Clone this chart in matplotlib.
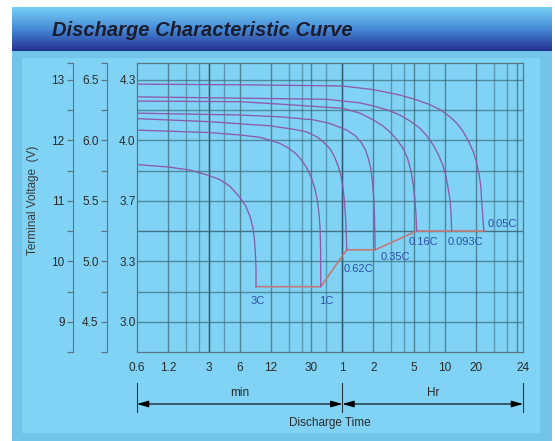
import matplotlib
matplotlib.use("Agg")
import numpy as np
import matplotlib.pyplot as plt
from matplotlib.patches import Rectangle
from matplotlib.transforms import blended_transform_factory

plt.rcParams['font.family'] = ['Liberation Sans', 'DejaVu Sans']

# discharge time in minutes, voltage read on the 12 V scale
t_3c = [0.6, 1.2, 1.97, 3.0, 3.86, 4.83, 6.0, 6.9, 7.6, 8.08, 8.36, 8.55, 8.65, 8.65]
v_3c = [11.60, 11.56, 11.51, 11.42, 11.35, 11.24, 11.06, 10.91, 10.73, 10.55, 10.35, 10.10, 9.85, 9.58]

t_1c = [0.6, 3.0, 6.0, 9.46, 12.0, 14.8, 18.0, 21.2, 24.1, 27.1, 30.1, 32.5, 34.2, 35.5,
        36.3, 36.7, 36.9, 36.9]
v_1c = [12.17, 12.13, 12.09, 12.05, 12.00, 11.95, 11.87, 11.78, 11.67, 11.54, 11.37, 11.19,
        11.01, 10.79, 10.57, 10.30, 10.01, 9.58]

t_062c = [0.6, 3.0, 12.0, 20.7, 26.9, 34.7, 42.2, 46.4, 50.8, 55.0, 58.1, 60.8, 62.9, 64.6,
          65.5, 66.1]
v_062c = [12.36, 12.31, 12.24, 12.18, 12.14, 12.05, 11.92, 11.84, 11.71, 11.56, 11.41, 11.21,
          10.98, 10.68, 10.43, 10.19]

t_035c = [0.6, 6.0, 14.8, 31.3, 45.4, 66.1, 79.6, 91.0, 99.6, 106.5, 112.7, 117.3, 120.8,
          123.0, 124.0, 125]
v_035c = [12.45, 12.42, 12.39, 12.34, 12.28, 12.17, 12.08, 11.97, 11.86, 11.72, 11.56, 11.34,
          11.09, 10.81, 10.51, 10.19]

t_016c = [0.6, 6.0, 14.8, 60.8, 89, 116.5, 145.9, 174, 204, 233.4, 258, 278, 294, 305.6,
          312.6, 317]
v_016c = [12.65, 12.64, 12.60, 12.53, 12.45, 12.35, 12.25, 12.14, 12.01, 11.87, 11.71, 11.51,
          11.26, 11.01, 10.76, 10.50]

t_0093c = [0.6, 42.2, 89, 120, 166.8, 218, 273, 342, 400, 461, 517.6, 569, 612, 644, 670,
           680, 689.6, 695]
v_0093c = [12.72, 12.68, 12.62, 12.57, 12.50, 12.42, 12.32, 12.20, 12.07, 11.92, 11.76, 11.59,
           11.41, 11.20, 11.01, 10.87, 10.68, 10.50]

t_005c = [0.6, 6.0, 60, 119, 218, 317, 428, 535, 670, 784, 902, 1014, 1130, 1214, 1292, 1342,
          1362, 1394, 1430]
v_005c = [12.93, 12.92, 12.90, 12.84, 12.75, 12.67, 12.59, 12.51, 12.39, 12.28, 12.14, 11.99,
          11.81, 11.64, 11.42, 11.21, 10.98, 10.76, 10.50]

rates = ["3C", "1C", "0.62C", "0.35C", "0.16C", "0.093C", "0.05C"]
curves_t = [t_3c, t_1c, t_062c, t_035c, t_016c, t_0093c, t_005c]
curves_v = [v_3c, v_1c, v_062c, v_035c, v_016c, v_0093c, v_005c]

# end-of-discharge line joining the curve ends
t_cutoff = [8.65, 36.9, 66.1, 125, 317, 1430]
v_cutoff = [9.58, 9.58, 10.19, 10.19, 10.50, 10.50]

volt12_ticks = [9, 10, 11, 12, 13]
volt12_labels = ["9", "10", "11", "12", "13"]
volt6_ticks = [4.5, 5.0, 5.5, 6.0, 6.5]
volt6_labels = ["4.5", "5.0", "5.5", "6.0", "6.5"]
cell_labels = ["3.0", "3.3", "3.7", "4.0", "4.3"]

x_tick_min = [0.6, 1.2, 3, 6, 12, 30, 60, 120, 300, 600, 1200]
x_tick_labels = ["0.6", "1.2", "3", "6", "12", "30", "1", "2", "5", "10", "20", "24"]

W, H = 555, 441
fig = plt.figure(figsize=(W / 100, H / 100), dpi=100)
fig.patch.set_facecolor("white")

# panel background drawn in pixel coordinates
bg = fig.add_axes([0, 0, 1, 1], zorder=-10)
bg.axis("off")
bg.add_patch(Rectangle((12, 51), 540, 390, color="#72c4e8", lw=0))
bg.add_patch(Rectangle((22, 58), 518, 375, color="#80d3f5", lw=0))
top = np.array([118, 208, 245]) / 255
mid = np.array([70, 138, 214]) / 255
bot = np.array([36, 48, 145]) / 255
s = np.linspace(0, 1, 60)[:, None]
grad = np.where(s < 0.5, top + (mid - top) * (s / 0.5), mid + (bot - mid) * ((s - 0.5) / 0.5))
bg.imshow(grad[:, None, :], extent=(12, 552, 51, 7), aspect="auto", interpolation="bilinear")
bg.set_xlim(0, W)
bg.set_ylim(H, 0)
bg.text(52, 30, "Discharge Characteristic Curve", fontsize=14.5, fontweight="bold",
        style="italic", va="center", ha="left", color="#1b1d2e")

ax = fig.add_axes([137 / W, 1 - 352 / H, 386 / W, 289 / H])
ax.set_facecolor("none")
ax.set_xscale("log")
ax.set_xlim(0.6, 3441)
ax.set_ylim(8.5, 13.28)

grid_c = "#3d6878"
for k in range(4):
    for m in (1, 2, 3, 4, 5, 7):
        xv = 0.6 * m * 10 ** k
        if 0.6 < xv < 3441:
            strong = m in (1, 2, 5)
            ax.axvline(xv, color=grid_c, lw=1.0, alpha=0.75 if strong else 0.55, zorder=1)
ax.axvline(3, color="#34586a", lw=1.0, alpha=0.9, zorder=1)
ax.axvline(60, color="#34586a", lw=1.0, alpha=0.95, zorder=1)
for yv in np.arange(9, 13.01, 0.5):
    ax.axhline(yv, color=grid_c, lw=1.0, alpha=0.9 if yv == 10.5 else 0.7, zorder=1)

for sp in ax.spines.values():
    sp.set_color("#5a7680")
    sp.set_linewidth(0.9)

for tt, vv in zip(curves_t, curves_v):
    ax.plot(tt, vv, color="#8c5aa8", lw=0.95, zorder=3, solid_joinstyle="round")
ax.plot(t_cutoff, v_cutoff, color="#c47878", lw=1.2, zorder=2)

label_offsets = [(2, -14), (6, -14), (12, -19), (20, -7), (7, -11), (14, -11), (19, 7)]
for name, tt, vv, off in zip(rates, curves_t, curves_v, label_offsets):
    ax.annotate(name, (tt[-1], vv[-1]), xytext=off, textcoords="offset pixels",
                ha="center", va="center", fontsize=8, color="#2d4fa8")

# x ticks: the last label sits at the right end of the axis
xmax = ax.get_xlim()[1]
ax.set_xticks(x_tick_min + [xmax], x_tick_labels)
ax.xaxis.set_minor_locator(matplotlib.ticker.NullLocator())
ax.tick_params(axis="x", length=0, pad=7, labelsize=8.5, labelcolor="#2a2a2a")

ax.set_yticks(volt12_ticks, cell_labels)
ax.tick_params(axis="y", length=0, pad=1, labelsize=8.5, labelcolor="#2a2a2a")

y0, y1 = ax.get_ylim()

# 12 V scale
ax12 = ax.secondary_yaxis(-(137 - 73) / 386)
twelve_minor = list(np.arange(9, 13.01, 0.5))
ax12.set_yticks(twelve_minor + [y0, y1])
ax12.set_yticklabels([volt12_labels[volt12_ticks.index(v)] if v in volt12_ticks else "" for v in twelve_minor]
                     + ["", ""])
ax12.tick_params(length=4, width=0.9, color="#5a7680", pad=2, labelsize=8.5, labelcolor="#2a2a2a")
ax12.spines["left"].set_color("#5a7680")

# 6 V scale
ax6 = ax.secondary_yaxis(-(137 - 107) / 386, functions=(lambda v: v / 2, lambda v: v * 2))
six_minor = list(np.arange(4.5, 6.51, 0.25))
ax6.set_yticks(six_minor + [y0 / 2, y1 / 2])
ax6.set_yticklabels([volt6_labels[volt6_ticks.index(v)] if v in volt6_ticks else "" for v in six_minor]
                    + ["", ""])
ax6.tick_params(length=4, width=0.9, color="#5a7680", pad=2, labelsize=8.5, labelcolor="#2a2a2a")
ax6.spines["left"].set_color("#5a7680")

fig.text(33 / W, 1 - 200 / H, "Terminal Voltage  (V)", rotation=90, ha="center", va="center",
         fontsize=8.5, color="#3a3a3a")

# discharge time span arrows under the axis
tr = blended_transform_factory(ax.transData, ax.transAxes)
ay = -(404 - 352) / 289
for xa, xb in ((0.6, 60), (60, xmax)):
    ax.annotate("", xy=(xa, ay), xytext=(xb, ay), xycoords=tr, textcoords=tr,
                arrowprops=dict(arrowstyle="<|-|>,head_length=0.7,head_width=0.2",
                                color="black", lw=0.8, shrinkA=0, shrinkB=0), annotation_clip=False)
for xv in (0.6, 60, xmax):
    ax.plot([xv, xv], [-(383 - 352) / 289, -(412 - 352) / 289], transform=tr, color="#333333",
            lw=0.8, clip_on=False)
ax.text(6, -(393 - 352) / 289, "min", transform=tr, ha="center", va="center", fontsize=8.5, color="#2a2a2a")
ax.text(np.sqrt(60 * xmax), -(393 - 352) / 289, "Hr", transform=tr, ha="center", va="center",
        fontsize=8.5, color="#2a2a2a")
ax.text(0.5, -(423 - 352) / 289, "Discharge Time", transform=ax.transAxes, ha="center", va="center",
        fontsize=8.5, color="#2a2a2a")

fig.savefig("out.png", dpi=100)
